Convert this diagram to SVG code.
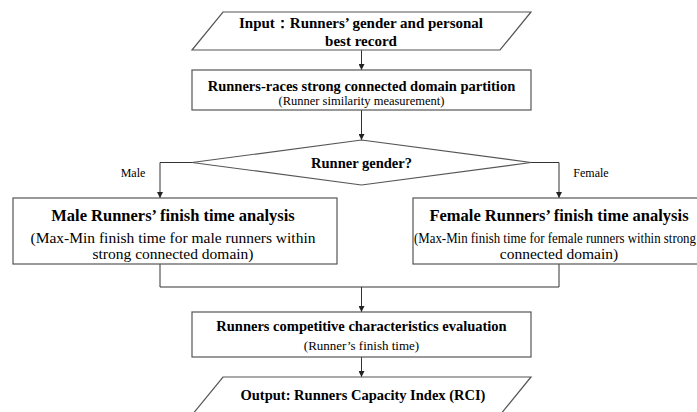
<svg xmlns="http://www.w3.org/2000/svg" width="697" height="412" viewBox="0 0 697 412">
<style>
.shape{fill:#fff;stroke:#555;stroke-width:1.2}
.ln{fill:none;stroke:#333;stroke-width:1}
.t{font-family:"Liberation Serif","Times New Roman",serif;fill:#000;text-anchor:middle}
.b{font-weight:bold}
.h{font-size:14.5px}
.in{font-size:15px}
.s{font-size:12.5px}
.m{font-size:16.5px}
.r{font-size:15.5px}
.lb{font-size:12px}
</style>
<defs>
<marker id="ah" markerWidth="6" markerHeight="6" refX="6" refY="3" orient="auto" markerUnits="userSpaceOnUse"><path d="M0,0 L6,3 L0,6 z" fill="#222"/></marker>
</defs>
<rect width="697" height="412" fill="#fff"/>
<g id="connectors">
<line class="ln" x1="361.5" y1="50" x2="361.5" y2="70" marker-end="url(#ah)"/>
<line class="ln" x1="361.5" y1="110" x2="361.5" y2="140" marker-end="url(#ah)"/>
<polyline class="ln" points="192,162.5 160,162.5 160,198" marker-end="url(#ah)"/>
<polyline class="ln" points="531,162.5 559,162.5 559,198" marker-end="url(#ah)"/>
<polyline class="ln" points="160,264 160,287 559,287 559,264"/>
<line class="ln" x1="361.5" y1="287" x2="361.5" y2="312" marker-end="url(#ah)"/>
<line class="ln" x1="361.5" y1="357" x2="361.5" y2="377" marker-end="url(#ah)"/>
<text class="t lb" x="133" y="177">Male</text>
<text class="t lb" x="591" y="177">Female</text>
</g>
<g id="input">
<polygon class="shape" points="223,12 531,12 500,50 192,50"/>
<text class="t b in" x="361" y="28">Input：Runners’ gender and personal</text>
<text class="t b in" x="361" y="46">best record</text>
</g>
<g id="partition">
<rect class="shape" x="192" y="70" width="339" height="40"/>
<text class="t b h" x="361.5" y="90.5">Runners-races strong connected domain partition</text>
<text class="t s" x="361.5" y="104.5">(Runner similarity measurement)</text>
</g>
<g id="gender">
<polygon class="shape" points="361.5,140 531,162.5 361.5,185 192,162.5"/>
<text class="t b h" x="361.5" y="167.5">Runner gender?</text>
</g>
<g id="male">
<rect class="shape" x="13" y="198" width="324" height="66"/>
<text class="t b m" x="173" y="221">Male Runners’ finish time analysis</text>
<text class="t r" x="173" y="243">(Max-Min finish time for male runners within</text>
<text class="t r" x="173" y="259">strong connected domain)</text>
</g>
<g id="female">
<rect class="shape" x="413" y="198" width="300" height="66"/>
<text class="t b m" x="559" y="221">Female Runners’ finish time analysis</text>
<text class="t r" x="414" y="243" style="text-anchor:start;font-size:14px" textLength="282" lengthAdjust="spacingAndGlyphs">(Max-Min finish time for female runners within strong</text>
<text class="t r" x="559" y="259">connected domain)</text>
</g>
<g id="evaluation">
<rect class="shape" x="192" y="312" width="339" height="45"/>
<text class="t b h" x="361.5" y="331">Runners competitive characteristics evaluation</text>
<text class="t" x="361.5" y="350" style="font-size:13px">(Runner’s finish time)</text>
</g>
<g id="output">
<polygon class="shape" points="223,377 531,377 500,415 192,415"/>
<text class="t b h" x="363" y="400">Output: Runners Capacity Index (RCI)</text>
</g>
</svg>
